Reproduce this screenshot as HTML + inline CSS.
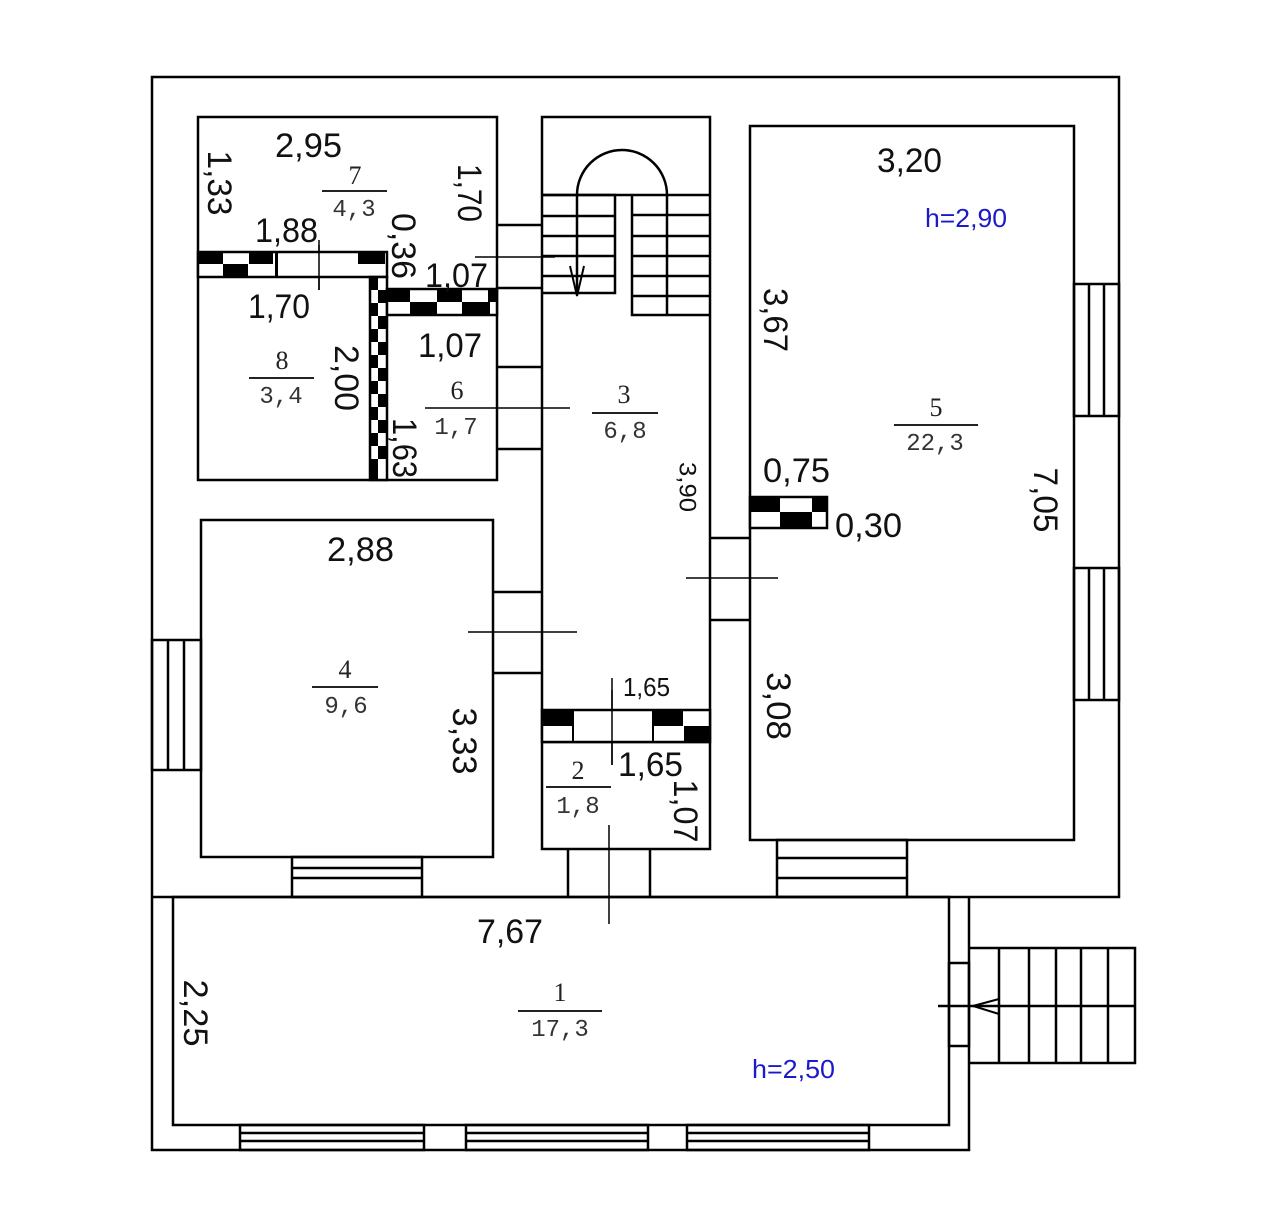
<!DOCTYPE html>
<html><head><meta charset="utf-8"><style>
html,body{margin:0;padding:0;background:#fff;}
svg{display:block}
.d{font-family:"Liberation Sans",sans-serif;font-size:34px;fill:#111}
.s{font-family:"Liberation Serif",serif;font-size:26px;fill:#222}
.m{font-family:"Liberation Mono",monospace;font-size:24px;fill:#333}
.b{font-family:"Liberation Sans",sans-serif;font-size:26px;fill:#1a1ac8}
</style></head><body>
<svg width="1280" height="1229" viewBox="0 0 1280 1229" xmlns="http://www.w3.org/2000/svg">
<g fill="none" stroke="#000" stroke-width="2.5">
<polyline points="152,897 152,77 1119,77 1119,897 969,897 969,1150 152,1150 152,897 969,897"/>
<rect x="173" y="897" width="776" height="228"/>
<rect x="198" y="117" width="299" height="363"/>
<rect x="542" y="117" width="168" height="732"/>
<rect x="750" y="126" width="324" height="714"/>
<rect x="201" y="520" width="292" height="337"/>
<line x1="542" y1="742" x2="710" y2="742"/>
<line x1="497" y1="225" x2="542" y2="225"/><line x1="497" y1="288" x2="542" y2="288"/>
<line x1="497" y1="367" x2="542" y2="367"/><line x1="497" y1="449" x2="542" y2="449"/>
<line x1="493" y1="592" x2="542" y2="592"/><line x1="493" y1="673" x2="542" y2="673"/>
<line x1="710" y1="538" x2="750" y2="538"/><line x1="710" y1="620" x2="750" y2="620"/>
<line x1="568" y1="849" x2="568" y2="897"/><line x1="650" y1="849" x2="650" y2="897"/>
<rect x="777" y="840" width="130" height="57"/><line x1="777" y1="858" x2="907" y2="858"/><line x1="777" y1="878" x2="907" y2="878"/>
<rect x="292" y="857" width="130" height="40"/><line x1="292" y1="868" x2="422" y2="868"/><line x1="292" y1="878" x2="422" y2="878"/>
<rect x="152" y="640" width="49" height="130"/><line x1="168" y1="640" x2="168" y2="770"/><line x1="184" y1="640" x2="184" y2="770"/>
<rect x="1074" y="284" width="45" height="132"/><line x1="1089" y1="284" x2="1089" y2="416"/><line x1="1104" y1="284" x2="1104" y2="416"/>
<rect x="1074" y="568" width="45" height="132"/><line x1="1089" y1="568" x2="1089" y2="700"/><line x1="1104" y1="568" x2="1104" y2="700"/>
<g>
<rect x="240" y="1125" width="184" height="25"/><line x1="240" y1="1133" x2="424" y2="1133"/><line x1="240" y1="1141" x2="424" y2="1141"/>
<rect x="466" y="1125" width="182" height="25"/><line x1="466" y1="1133" x2="648" y2="1133"/><line x1="466" y1="1141" x2="648" y2="1141"/>
<rect x="687" y="1125" width="182" height="25"/><line x1="687" y1="1133" x2="869" y2="1133"/><line x1="687" y1="1141" x2="869" y2="1141"/>
</g>
<line x1="542" y1="195" x2="710" y2="195"/>
<path d="M577,195 A45,45 0 0 1 667,195"/>
<polyline points="542,195 615,195 615,293 542,293"/>
<line x1="577" y1="195" x2="577" y2="293"/>
<line x1="542" y1="216" x2="615" y2="216"/><line x1="542" y1="236" x2="615" y2="236"/><line x1="542" y1="256" x2="615" y2="256"/><line x1="542" y1="276" x2="615" y2="276"/>
<polyline points="632,195 632,315 710,315"/>
<line x1="667" y1="195" x2="667" y2="315"/>
<line x1="632" y1="215" x2="710" y2="215"/><line x1="632" y1="236" x2="710" y2="236"/><line x1="632" y1="256" x2="710" y2="256"/><line x1="632" y1="276" x2="710" y2="276"/><line x1="632" y1="296" x2="710" y2="296"/>
<line x1="577" y1="250" x2="577" y2="296" stroke-width="2"/><polyline points="570,266 577,296 584,266" stroke-width="2"/>
<rect x="949" y="963" width="20" height="83"/>
<polyline points="970,948 1135,948 1135,1063 970,1063"/>
<line x1="999" y1="948" x2="999" y2="1063"/><line x1="1029" y1="948" x2="1029" y2="1063"/><line x1="1056" y1="948" x2="1056" y2="1063"/><line x1="1081" y1="948" x2="1081" y2="1063"/><line x1="1108" y1="948" x2="1108" y2="1063"/>
<line x1="938" y1="1006" x2="1135" y2="1006"/>
<polyline points="999,999 973,1006 999,1014" stroke-width="2"/>
<g stroke-width="1.5">
<line x1="319" y1="240" x2="319" y2="290"/>
<line x1="425" y1="408" x2="570" y2="408"/>
<line x1="612" y1="678" x2="612" y2="765"/>
<line x1="468" y1="632" x2="577" y2="632"/>
<line x1="686" y1="578" x2="778" y2="578"/>
<line x1="609" y1="825" x2="609" y2="924"/>
<line x1="475" y1="257" x2="555" y2="257"/>
</g>
</g>
<g fill="#000">
<rect x="198" y="252" width="189" height="25" fill="#fff" stroke="#000" stroke-width="2.5"/>
<rect x="198" y="252" width="25" height="12"/><rect x="249" y="252" width="24" height="12"/><rect x="358" y="252" width="27" height="12"/>
<rect x="223" y="264" width="25" height="13"/>
<rect x="275" y="252" width="3" height="25"/>
<rect x="370" y="277" width="17" height="203" fill="#fff" stroke="#000" stroke-width="2.5"/>
<rect x="370" y="277" width="8" height="13"/><rect x="378" y="290" width="9" height="13"/><rect x="370" y="303" width="8" height="13"/><rect x="378" y="316" width="9" height="13"/><rect x="370" y="329" width="8" height="13"/><rect x="378" y="342" width="9" height="13"/><rect x="370" y="355" width="8" height="13"/><rect x="378" y="368" width="9" height="13"/><rect x="370" y="381" width="8" height="13"/><rect x="378" y="394" width="9" height="13"/><rect x="370" y="407" width="8" height="13"/><rect x="378" y="420" width="9" height="13"/><rect x="370" y="433" width="8" height="13"/><rect x="378" y="446" width="9" height="13"/><rect x="370" y="459" width="8" height="21"/>
<rect x="387" y="289" width="110" height="26" fill="#fff" stroke="#000" stroke-width="2.5"/>
<rect x="387" y="289" width="23" height="13"/><rect x="437" y="289" width="25" height="13"/><rect x="488" y="289" width="9" height="13"/>
<rect x="410" y="302" width="27" height="13"/><rect x="462" y="302" width="28" height="13"/>
<rect x="750" y="497" width="77" height="31" fill="#fff" stroke="#000" stroke-width="2.5"/>
<rect x="750" y="497" width="30" height="15"/><rect x="812" y="497" width="15" height="15"/><rect x="780" y="512" width="32" height="16"/>
<rect x="542" y="710" width="168" height="32" fill="#fff" stroke="#000" stroke-width="2.5"/>
<rect x="542" y="710" width="31" height="16"/><rect x="653" y="710" width="30" height="16"/><rect x="684" y="726" width="26" height="16"/>
<rect x="572" y="710" width="2" height="32"/><rect x="652" y="710" width="2" height="32"/>
</g>
<g stroke="#000" stroke-width="1.5"><line x1="612" y1="690" x2="612" y2="765"/><line x1="319" y1="245" x2="319" y2="290"/></g>
<g stroke="#222" stroke-width="2">
<line x1="322" y1="191" x2="387" y2="191"/><line x1="249" y1="378" x2="314" y2="378"/>
<line x1="592" y1="413" x2="658" y2="413"/><line x1="894" y1="425" x2="978" y2="425"/>
<line x1="312" y1="687" x2="378" y2="687"/><line x1="546" y1="787" x2="611" y2="787"/>
<line x1="518" y1="1011" x2="602" y2="1011"/>
</g>
<g class="d">
<text x="275" y="157" textLength="67" lengthAdjust="spacingAndGlyphs">2,95</text>
<text x="255" y="242" textLength="63" lengthAdjust="spacingAndGlyphs">1,88</text>
<text x="425" y="287" textLength="63" lengthAdjust="spacingAndGlyphs">1,07</text>
<text x="248" y="318" textLength="62" lengthAdjust="spacingAndGlyphs">1,70</text>
<text x="418" y="357" textLength="64" lengthAdjust="spacingAndGlyphs">1,07</text>
<text x="877" y="172" textLength="65" lengthAdjust="spacingAndGlyphs">3,20</text>
<text x="763" y="482" textLength="67" lengthAdjust="spacingAndGlyphs">0,75</text>
<text x="835" y="537" textLength="67" lengthAdjust="spacingAndGlyphs">0,30</text>
<text x="327" y="561" textLength="67" lengthAdjust="spacingAndGlyphs">2,88</text>
<text x="618" y="776" textLength="65" lengthAdjust="spacingAndGlyphs">1,65</text>
<text x="477" y="943" textLength="66" lengthAdjust="spacingAndGlyphs">7,67</text>
<text x="623" y="696" style="font-size:26px" textLength="47" lengthAdjust="spacingAndGlyphs">1,65</text>
<g dominant-baseline="central" text-anchor="middle">
<text transform="translate(219,183) rotate(90)" textLength="65" lengthAdjust="spacingAndGlyphs">1,33</text>
<text transform="translate(469,193) rotate(90)" textLength="58" lengthAdjust="spacingAndGlyphs">1,70</text>
<text transform="translate(403,246) rotate(90)" textLength="66" lengthAdjust="spacingAndGlyphs">0,36</text>
<text transform="translate(346,378) rotate(90)" textLength="66" lengthAdjust="spacingAndGlyphs">2,00</text>
<text transform="translate(404,448) rotate(90)" textLength="60" lengthAdjust="spacingAndGlyphs">1,63</text>
<text transform="translate(687,487) rotate(90)" style="font-size:24px" textLength="50" lengthAdjust="spacingAndGlyphs">3,90</text>
<text transform="translate(775,320) rotate(90)" textLength="64" lengthAdjust="spacingAndGlyphs">3,67</text>
<text transform="translate(1045,500) rotate(90)" textLength="65" lengthAdjust="spacingAndGlyphs">7,05</text>
<text transform="translate(464,741) rotate(90)" textLength="67" lengthAdjust="spacingAndGlyphs">3,33</text>
<text transform="translate(685,811) rotate(90)" textLength="63" lengthAdjust="spacingAndGlyphs">1,07</text>
<text transform="translate(778,706) rotate(90)" textLength="68" lengthAdjust="spacingAndGlyphs">3,08</text>
<text transform="translate(195,1013) rotate(90)" textLength="67" lengthAdjust="spacingAndGlyphs">2,25</text>
</g>
</g>
<text class="b" x="925" y="227" textLength="82" lengthAdjust="spacingAndGlyphs">h=2,90</text>
<text class="b" x="752" y="1078" textLength="83" lengthAdjust="spacingAndGlyphs">h=2,50</text>
<g text-anchor="middle">
<text class="s" x="355" y="184">7</text><text class="m" x="354" y="216">4,3</text>
<text class="s" x="282" y="369">8</text><text class="m" x="281" y="403">3,4</text>
<text class="s" x="457" y="399">6</text><text class="m" x="456" y="434">1,7</text>
<text class="s" x="624" y="403">3</text><text class="m" x="625" y="438">6,8</text>
<text class="s" x="936" y="416">5</text><text class="m" x="935" y="450">22,3</text>
<text class="s" x="345" y="678">4</text><text class="m" x="346" y="713">9,6</text>
<text class="s" x="578" y="779">2</text><text class="m" x="578" y="813">1,8</text>
<text class="s" x="560" y="1001">1</text><text class="m" x="560" y="1036">17,3</text>
</g>
</svg>
</body></html>
